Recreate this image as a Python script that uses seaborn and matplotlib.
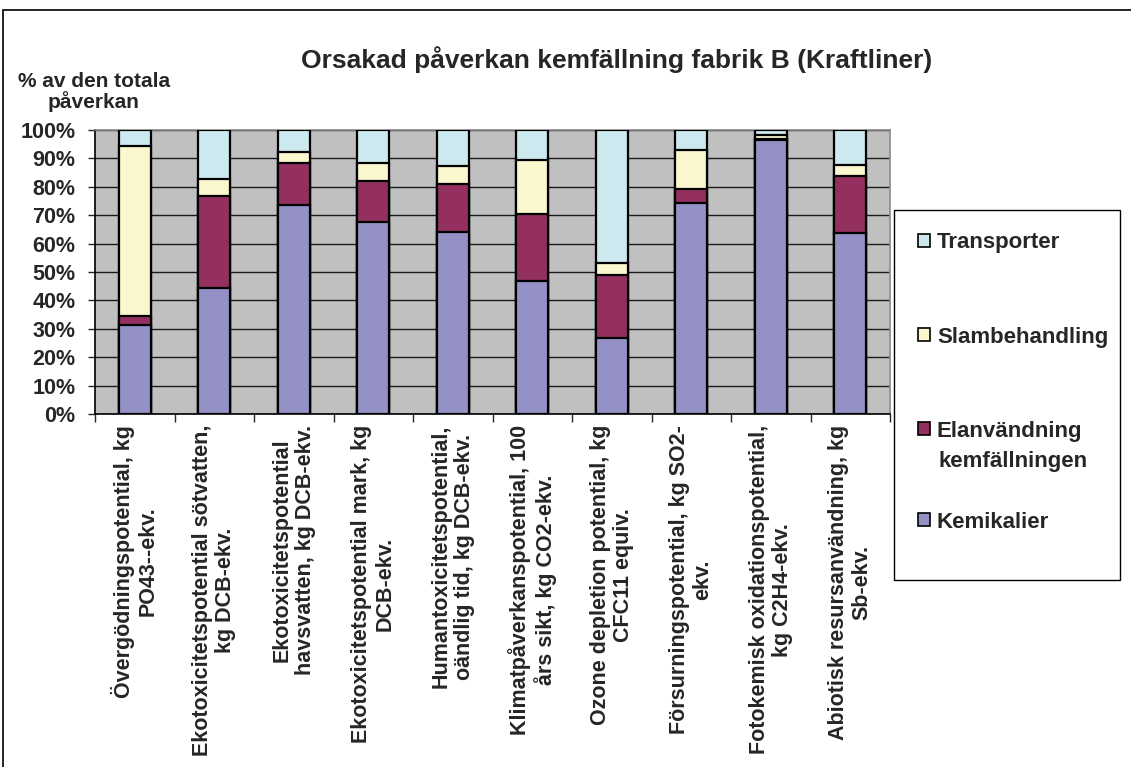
import matplotlib
matplotlib.use("Agg")
import matplotlib.pyplot as plt
from matplotlib.patches import Patch, Rectangle
from matplotlib.ticker import FixedLocator, PercentFormatter
import numpy as np
import pandas as pd
import seaborn as sns

# Impact categories (x axis)
categories = [
    "Övergödningspotential, kg\nPO43--ekv.",
    "Ekotoxicitetspotential sötvatten,\nkg DCB-ekv.",
    "Ekotoxicitetspotential\nhavsvatten, kg DCB-ekv.",
    "Ekotoxicitetspotential mark, kg\nDCB-ekv.",
    "Humantoxicitetspotential,\noändlig tid, kg DCB-ekv.",
    "Klimatpåverkanspotential, 100\nårs sikt, kg CO2-ekv.",
    "Ozone depletion potential, kg\nCFC11 equiv.",
    "Försurningspotential, kg SO2-\nekv.",
    "Fotokemisk oxidationspotential,\nkg C2H4-ekv.",
    "Abiotisk resursanvändning, kg\nSb-ekv.",
]

# Share of total impact (%) per source
kemikalier = [31.2, 44.3, 73.5, 67.6, 64.0, 46.7, 26.6, 74.2, 96.5, 63.7]
elanvandning = [3.4, 32.3, 14.8, 14.3, 16.9, 23.6, 22.2, 4.9, 0.4, 20.1]
slambehandling = [59.8, 6.0, 3.8, 6.6, 6.3, 19.1, 4.5, 13.9, 1.5, 3.7]
transporter = [5.6, 17.4, 7.9, 11.5, 12.8, 10.6, 46.7, 7.0, 1.6, 12.5]

series_names = ["Kemikalier", "Elanvändning\nkemfällningen", "Slambehandling", "Transporter"]
series_values = [kemikalier, elanvandning, slambehandling, transporter]
series_colors = ["#9491C6", "#933060", "#FAF7CE", "#CDE9F0"]

y_ticks = [0, 10, 20, 30, 40, 50, 60, 70, 80, 90, 100]

# Long-form table with cumulative tops for the stacked layers
rows = []
cum = np.zeros(len(categories))
for name, vals in zip(series_names, series_values):
    cum = cum + np.array(vals)
    for cat, top in zip(categories, cum):
        rows.append({"kategori": cat, "serie": name, "topp": top})
df = pd.DataFrame(rows)

sns.set_style("white")
plt.rcParams["font.family"] = ["Liberation Sans", "DejaVu Sans"]
plt.rcParams["font.weight"] = "bold"

W, H = 1131, 767
fig = plt.figure(figsize=(W / 100, H / 100), dpi=100)
ax = fig.add_axes([95 / W, 1 - 414 / H, (890 - 95) / W, (414 - 130) / H])
ax.set_facecolor("#C0C0C0")
ax.set_axisbelow(True)

# Draw the stack from the top layer down so each lower segment covers the one above
for name, color in reversed(list(zip(series_names, series_colors))):
    sns.barplot(
        data=df[df["serie"] == name], x="kategori", y="topp",
        order=categories, color=color, width=0.4, saturation=1,
        edgecolor="black", linewidth=1.6, ax=ax, zorder=3,
    )

ax.set_xlim(-0.5, len(categories) - 0.5)
ax.set_ylim(0, 100)
ax.yaxis.set_major_locator(FixedLocator(y_ticks))
ax.yaxis.set_major_formatter(PercentFormatter(decimals=0))
ax.grid(axis="y", color="#1a1a1a", linewidth=1.0)
ax.grid(axis="x", visible=False)
ax.set_xlabel("")
ax.set_ylabel("")

for side in ["top", "right"]:
    ax.spines[side].set_color("#8a8a8a")
    ax.spines[side].set_linewidth(1.2)
for side in ["left", "bottom"]:
    ax.spines[side].set_color("black")
    ax.spines[side].set_linewidth(1.2)

ax.tick_params(axis="y", which="major", direction="out", length=5, width=1,
               labelsize=15.5, pad=9, left=True)
ax.tick_params(axis="x", which="major", length=0, pad=8)
ax.set_xticks(range(len(categories)))
ax.set_xticklabels(categories, rotation=90, ha="center", va="top",
                   multialignment="center", fontsize=15.5, fontweight="bold",
                   linespacing=1.15)
ax.set_xticks(np.arange(-0.5, len(categories), 1.0), minor=True)
ax.tick_params(axis="x", which="minor", direction="out", length=6, width=1, bottom=True)
for lbl in ax.get_yticklabels():
    lbl.set_fontweight("bold")

# Title and axis caption
fig.text(617 / W, 1 - 60 / H, "Orsakad påverkan kemfällning fabrik B (Kraftliner)",
         ha="center", va="center", fontsize=19, fontweight="bold")
fig.text(94 / W, 1 - 92 / H, "% av den totala\npåverkan", ha="center", va="center",
         multialignment="center", fontsize=15, fontweight="bold", linespacing=1.0)

# Outer chart frame
fig.patches.append(Rectangle((3 / W, -0.01), 1.02, 1 - 10 / H + 0.01,
                             transform=fig.transFigure, fill=False,
                             edgecolor="black", linewidth=1.2))

# Legend box
fig.patches.append(Rectangle((894 / W, 1 - 580 / H), 0.2, (580 - 210) / H,
                             transform=fig.transFigure, facecolor="white",
                             edgecolor="black", linewidth=1.0))

# Legend entries, one per series, top to bottom
legend_rows = [("Transporter", series_colors[3], 243),
               ("Slambehandling", series_colors[2], 337),
               ("Elanvändning", series_colors[1], 431),
               ("Kemikalier", series_colors[0], 522)]
for label, color, ypix in legend_rows:
    leg = fig.legend(handles=[Patch(facecolor=color, edgecolor="black", linewidth=1.2,
                                    label=label)],
                     loc="center left", bbox_to_anchor=(918 / W, 1 - ypix / H),
                     frameon=False, fontsize=16, handlelength=0.55, handleheight=0.55,
                     handletextpad=0.3, borderaxespad=0, borderpad=0)
    for t in leg.get_texts():
        t.set_fontweight("bold")
# second line of the two-line entry
fig.text(938 / W, 1 - 462 / H, "kemfällningen", ha="left", va="center",
         fontsize=16, fontweight="bold")

fig.savefig("out.png", dpi=100)
